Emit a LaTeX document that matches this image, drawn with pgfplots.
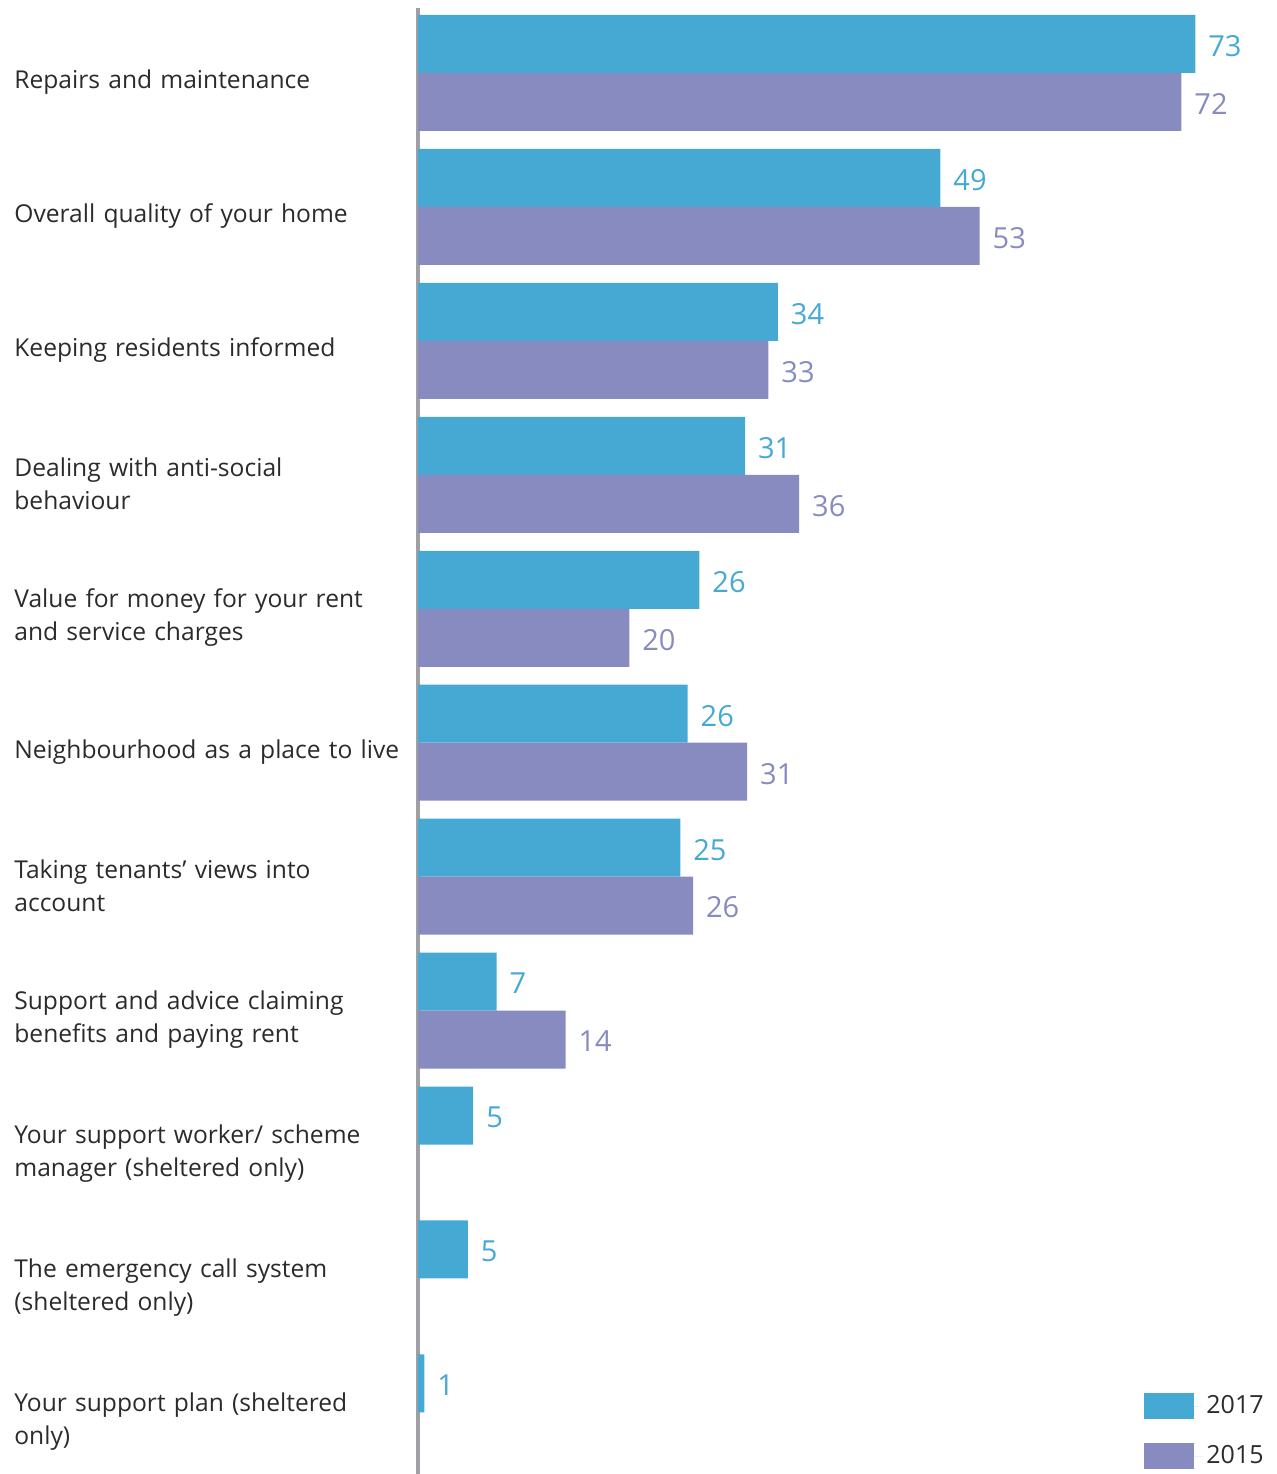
\documentclass[border=0pt]{standalone}
\usepackage{pgfplots}
\pgfplotsset{compat=1.18}
\usepackage{pgfplotstable}
\usepackage{fontspec}
\setmainfont{Open Sans}
\definecolor{c17}{HTML}{46A9D4}
\definecolor{c15}{HTML}{878BBF}
\definecolor{txt}{HTML}{2B2B2B}
\definecolor{axc}{HTML}{A0A0A4}

\pgfplotstableread{
y x lab
0 73.2 73
1 49.2 49
2 33.9 34
3 30.8 31
4 26.5 26
5 25.4 26
6 24.7 25
7 7.4 7
8 5.2 5
9 4.7 5
10 0.6 1
}\dataA

\pgfplotstableread{
y x lab
0 71.9 72
1 52.9 53
2 33.0 33
3 35.9 36
4 19.9 20
5 31.0 31
6 25.9 26
7 13.9 14
}\dataB

\begin{document}
\begin{tikzpicture}
\useasboundingbox (-209bp,0) rectangle (429.5bp,737bp);
\begin{axis}[
  at={(0,0)}, anchor=south west,
  scale only axis, width=429.5bp, height=737bp,
  xbar, bar width=0.433,
  xmin=0, xmax=80.9, ymin=-0.545, ymax=10.46, y dir=reverse,
  axis x line=none, axis y line*=left,
  y axis line style={draw=axc, line width=2bp, shorten <=4bp},
  ytick={0,...,10}, major tick length=0,
  yticklabels={Repairs and maintenance, Overall quality of your home, Keeping residents informed, {Dealing with anti-social\\behaviour}, {Value for money for your rent\\and service charges}, Neighbourhood as a place to live, {Taking tenants’ views into\\account}, {Support and advice claiming\\benefits and paying rent}, {Your support worker/ scheme\\manager (sheltered only)}, {The emergency call system\\(sheltered only)}, {Your support plan (sheltered\\only)}},
  yticklabel style={anchor=west, xshift=-202bp, yshift=-4.5bp, text width=200bp, align=left, inner sep=0pt, font=\fontsize{12.3bp}{16.5bp}\selectfont, text=txt},
  clip=false,
  legend style={at={(0.9895,0.002)}, anchor=south east, draw=none, fill=none, inner sep=0pt,
    font=\fontsize{12.5bp}{15bp}\selectfont, text=txt, row sep=10.5bp},
  legend cell align=left,
]
\addplot[fill=c17, draw=none, bar shift=-0.2165, point meta=explicit symbolic,
  nodes near coords, every node near coord/.append style={anchor=west, text=c17, font=\fontsize{14.5bp}{17bp}\selectfont, xshift=3bp, yshift=-1bp},
  legend image code/.code={\fill[c17] (0bp,-6.5bp) rectangle (25bp,6.5bp); \path (0bp,0bp) -- (29bp,0bp);}]
  table[x=x, y=y, meta=lab] {\dataA};
\addlegendentry{2017}
\addplot[fill=c15, draw=none, bar shift=0.2165, point meta=explicit symbolic,
  nodes near coords, every node near coord/.append style={anchor=west, text=c15, font=\fontsize{14.5bp}{17bp}\selectfont, xshift=3bp, yshift=-1bp},
  legend image code/.code={\fill[c15] (0bp,-6.5bp) rectangle (25bp,6.5bp); \path (0bp,0bp) -- (29bp,0bp);}]
  table[x=x, y=y, meta=lab] {\dataB};
\addlegendentry{2015}
\end{axis}
\end{tikzpicture}
\end{document}
